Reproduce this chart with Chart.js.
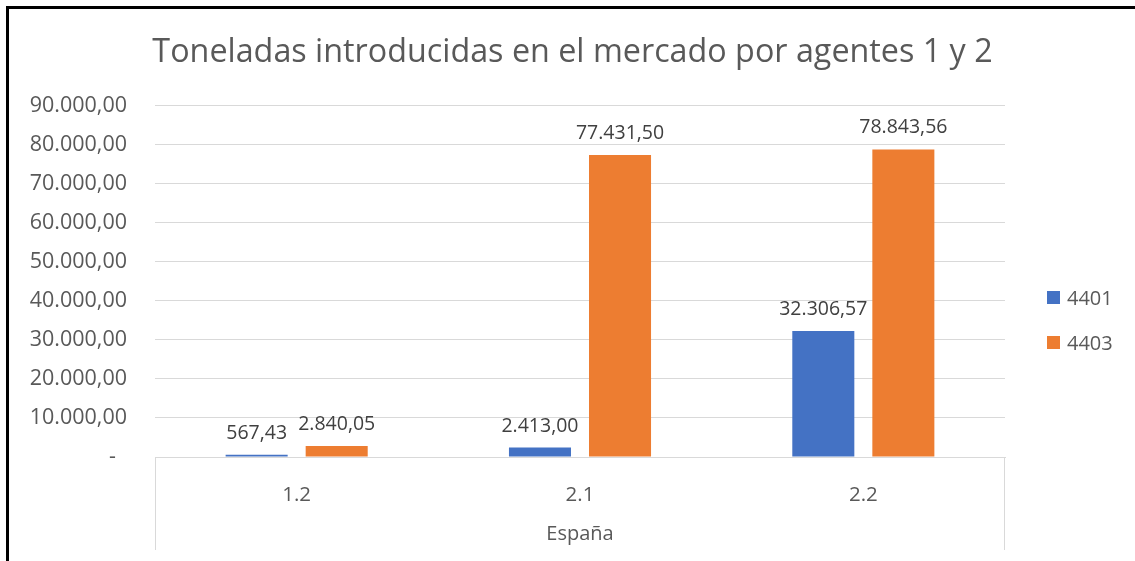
<!DOCTYPE html>
<html>
<head>
<meta charset="utf-8">
<script src="https://cdn.jsdelivr.net/npm/chart.js@4"></script>
<style>
    body { margin: 0; background: #fff; }
    #wrap { position: relative; width: 1135px; height: 561px; overflow: hidden; }
    #frame {
        position: absolute; left: 6px; top: 6px; right: -10px; bottom: -10px;
        border-top: 3px solid #000; border-left: 3px solid #000;
        pointer-events: none;
    }
    canvas { position: absolute; left: 0; top: 0; }
</style>
</head>
<body>
<div id="wrap">
    <canvas id="myBarChart" width="1135" height="561"></canvas>
    <div id="frame"></div>
</div>
<script>
const chartTitle = 'Toneladas introducidas en el mercado por agentes 1 y 2';
const groupLabel = 'España';
const categories = ['1.2', '2.1', '2.2'];
const seriesNames = ['4401', '4403'];
const values4401 = [567.43, 2413.00, 32306.57];
const values4403 = [2840.05, 77431.50, 78843.56];
const yMax = 90000;
const yStep = 10000;

const textColor = '#595959';
const gridColor = '#d9d9d9';
const fontName = '"Open Sans", "Noto Sans", sans-serif';

// numbers like 78.843,56 (Excel accounting, zero shown as a dash)
function fmt(v) {
    if (v === 0) return '-';
    const parts = v.toFixed(2).split('.');
    return parts[0].replace(/\B(?=(\d{3})+(?!\d))/g, '.') + ',' + parts[1];
}

const dataLabels = {
    id: 'dataLabels',
    afterDatasetsDraw(chart) {
        const ctx = chart.ctx;
        ctx.save();
        ctx.font = '19.5px ' + fontName;
        ctx.fillStyle = '#404040';
        ctx.textAlign = 'center';
        ctx.textBaseline = 'alphabetic';
        chart.data.datasets.forEach((ds, i) => {
            chart.getDatasetMeta(i).data.forEach((bar, j) => {
                ctx.fillText(fmt(ds.data[j]), bar.x, bar.y - 16);
            });
        });
        ctx.restore();
    }
};

const axisFrame = {
    id: 'axisFrame',
    afterDraw(chart) {
        const ctx = chart.ctx;
        const area = chart.chartArea;
        ctx.save();
        ctx.strokeStyle = gridColor;
        ctx.lineWidth = 1;
        ctx.beginPath();
        ctx.moveTo(area.left + 0.5, area.bottom);
        ctx.lineTo(area.left + 0.5, area.bottom + 93);
        ctx.moveTo(area.right - 0.5, area.bottom);
        ctx.lineTo(area.right - 0.5, area.bottom + 93);
        ctx.stroke();

        // legend on the right
        ctx.font = '20px ' + fontName;
        ctx.textAlign = 'left';
        ctx.textBaseline = 'alphabetic';
        chart.data.datasets.forEach((ds, i) => {
            const top = 291 + i * 45;
            ctx.fillStyle = ds.backgroundColor;
            ctx.fillRect(1047, top, 13, 13);
            ctx.fillStyle = textColor;
            ctx.fillText(ds.label, 1067, top + 14);
        });
        ctx.restore();
    }
};

const ctx = document.getElementById('myBarChart').getContext('2d');
const barChart = new Chart(ctx, {
    type: 'bar',
    data: {
        labels: categories,
        datasets: [
            { label: seriesNames[0], data: values4401, backgroundColor: '#4472C4' },
            { label: seriesNames[1], data: values4403, backgroundColor: '#ED7D31' }
        ]
    },
    options: {
        responsive: false,
        animation: false,
        devicePixelRatio: 1,
        categoryPercentage: 0.565,
        barPercentage: 0.775,
        layout: { padding: { left: 10, right: 0, top: 0, bottom: 0 } },
        plugins: {
            legend: { display: false },
            tooltip: { enabled: false },
            title: {
                display: true,
                text: chartTitle,
                color: textColor,
                font: { family: fontName, size: 32.3, weight: 'normal' },
                padding: { top: 33, bottom: 34.2 }
            }
        },
        scales: {
            x: {
                grid: { display: false },
                border: { display: true, color: gridColor, width: 1 },
                ticks: {
                    color: textColor,
                    padding: 18,
                    font: { family: fontName, size: 20.5 }
                },
                title: {
                    display: true,
                    text: groupLabel,
                    color: textColor,
                    font: { family: fontName, size: 20 },
                    padding: { top: 0, bottom: 15 }
                },
                afterFit(scale) { scale.height = 104; }
            },
            y: {
                min: 0,
                max: yMax,
                grid: { color: gridColor, drawTicks: false },
                border: { display: false },
                ticks: {
                    stepSize: yStep,
                    color: textColor,
                    padding: 28,
                    font: { family: fontName, size: 21.5 },
                    callback: v => v === 0 ? '-  ' : fmt(v)
                },
                afterFit(scale) { scale.width = 145; }
            },
            // empty right axis, only reserves room for the legend
            legendSpace: {
                type: 'linear',
                position: 'right',
                grid: { display: false },
                border: { display: false },
                ticks: { display: false },
                afterFit(scale) { scale.width = 130; }
            }
        }
    },
    plugins: [dataLabels, axisFrame]
});
</script>
</body>
</html>
